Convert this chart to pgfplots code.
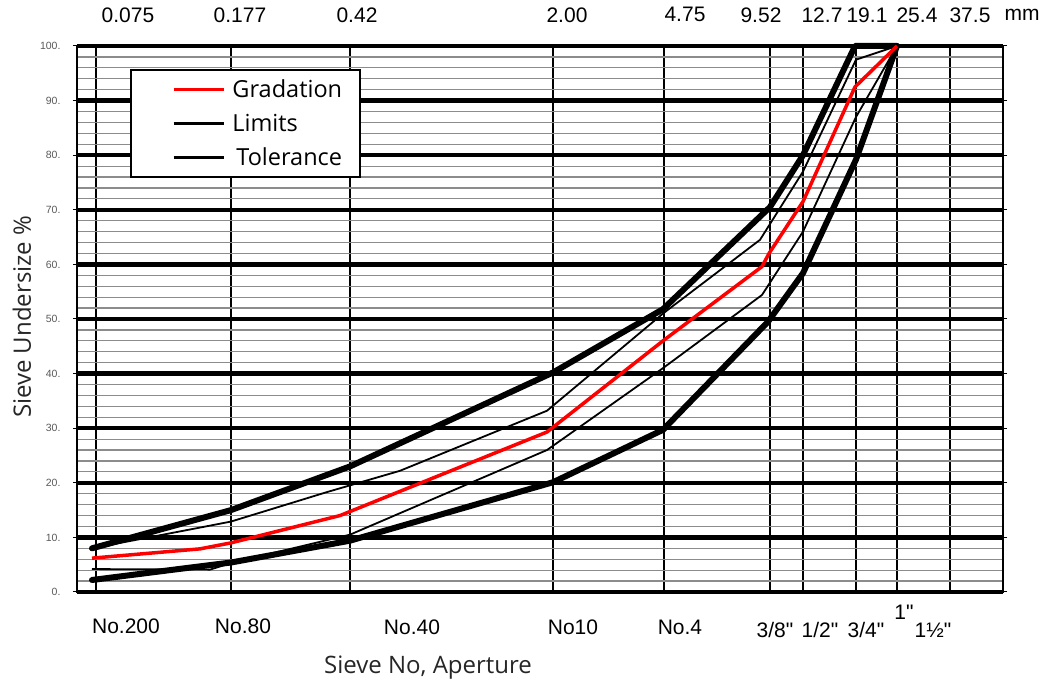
\documentclass[border=0pt]{standalone}
\usepackage{fontspec}
\setmainfont{Open Sans}
\newfontfamily\arial{Liberation Sans}
\usepackage{pgfplots}
\pgfplotsset{compat=1.18}
% x values are the horizontal positions of the sieves on the chart's sieve scale
\pgfplotstableread{
x y
92 8
231 15
350 23
553 40.2
663 51.8
770 70.5
803 80
855 100
897 100
}\upperlimit
\pgfplotstableread{
x y
92 2.2
200 4.7
231 5.4
350 9.4
553 20.1
663 29.7
768 49.5
803 58.4
856 79.2
897 100
}\lowerlimit
\pgfplotstableread{
x y
92 6.2
200 7.9
231 9.0
340 14
547 29.3
663 46
762 59.6
769 62
803 71.5
855 92.5
897 100
}\gradation
\pgfplotstableread{
x y
92 8
200 11.8
231 12.9
327 18.3
400 22.2
547 33.2
663 51
760 64.5
803 77
856 97.5
897 100
}\uppertol
\pgfplotstableread{
x y
92 4.2
210 4.1
231 5.3
350 10.5
547 26
663 41
762 54.4
803 66
856 87
897 100
}\lowertol
\begin{document}
\begin{tikzpicture}
\begin{axis}[
  scale only axis, width=926pt, height=546pt,
  xmin=77, xmax=1003, ymin=0, ymax=100,
  clip=false,
  axis line style={line width=2pt},
  xtick={96,231,350,553,664,770,803,856,897,950},
  xticklabels={},
  major x tick style={draw=none},
  xmajorgrids, major x grid style={black, line width=2.8pt},
  ytick={0,10,...,100},
  yticklabels={0.,10.,20.,30.,40.,50.,60.,70.,80.,90.,100.},
  yticklabel style={font=\arial\fontsize{10.5}{12}\selectfont, text=black!65, xshift=-9pt},
  ymajorgrids, major y grid style={black, line width=4.5pt},
  minor y tick num=4, yminorgrids, minor y grid style={black!45, line width=1.2pt},
  minor y tick style={draw=none},
  major y tick style={black, line width=1pt}, tick align=outside, major tick length=4pt,
  legend image code/.code={\path (-41pt,0pt); \draw[#1] (0pt,0pt) -- (50pt,0pt);},
  legend style={at={(axis cs:130,95.8)}, anchor=north west, draw=black, line width=2pt,
    fill=white, font=\fontsize{23.5}{27}\selectfont, inner xsep=0pt, inner ysep=8pt,
    row sep=11pt, /tikz/every odd column/.append style={column sep=5pt}},
  legend cell align=left,
]
\addlegendimage{red, line width=3pt}
\addlegendentry{Gradation}
\addlegendimage{black, line width=3.5pt}
\addlegendentry{Limits}
\addlegendimage{black, line width=3.5pt}
\addlegendentry{\,Tolerance\hspace*{16pt}\mbox{}}
\addplot[forget plot, black, line width=1.8pt, line join=round] table {\uppertol};
\addplot[forget plot, black, line width=1.8pt, line join=round] table {\lowertol};
\addplot[forget plot, black, line width=6pt, line join=round, line cap=round] table {\upperlimit};
\addplot[forget plot, black, line width=6pt, line join=round, line cap=round] table {\lowerlimit};
\addplot[forget plot, red, line width=3.5pt, line join=round] table {\gradation};
\coordinate (bl) at (rel axis cs:0,0);
\coordinate (tr) at (rel axis cs:1,1);
% top labels (aperture, mm)
\begin{scope}[every node/.style={font=\arial\fontsize{21}{24}\selectfont, anchor=center, inner sep=0pt}]
\node at (axis cs:128,105.7) {0.075};
\node at (axis cs:240,105.7) {0.177};
\node at (axis cs:357,105.7) {0.42};
\node at (axis cs:567,105.7) {2.00};
\node at (axis cs:685,105.7) {4.75};
\node at (axis cs:761,105.7) {9.52};
\node at (axis cs:822,105.7) {12.7};
\node at (axis cs:867,105.7) {19.1};
\node at (axis cs:917,105.7) {25.4};
\node at (axis cs:970,105.7) {37.5};
\node at (axis cs:1022,105.7) {mm};
% bottom labels (sieve numbers)
\node at (axis cs:126,-6.2) {No.200};
\node at (axis cs:243,-6.2) {No.80};
\node at (axis cs:412,-6.4) {No.40};
\node at (axis cs:573,-6.4) {No10};
\node at (axis cs:680,-6.4) {No.4};
\node at (axis cs:775,-7.0) {3/8"};
\node at (axis cs:820,-7.0) {1/2"};
\node at (axis cs:866,-7.0) {3/4"};
\node at (axis cs:904,-3.7) {1"};
\node at (axis cs:933,-7.0) {1½"};
\end{scope}
\node[font=\fontsize{24}{28}\selectfont, anchor=center, text=black!85] at (axis cs:428,-13.9) {Sieve No, Aperture};
\node[font=\fontsize{24}{28}\selectfont, anchor=center, rotate=90, text=black!85] at (axis cs:22,50.4) {Sieve Undersize \%};
\end{axis}
\pgfresetboundingbox
\path ([xshift=-77pt,yshift=-98pt]bl) rectangle ([xshift=50pt,yshift=46pt]tr);
\end{tikzpicture}
\end{document}
